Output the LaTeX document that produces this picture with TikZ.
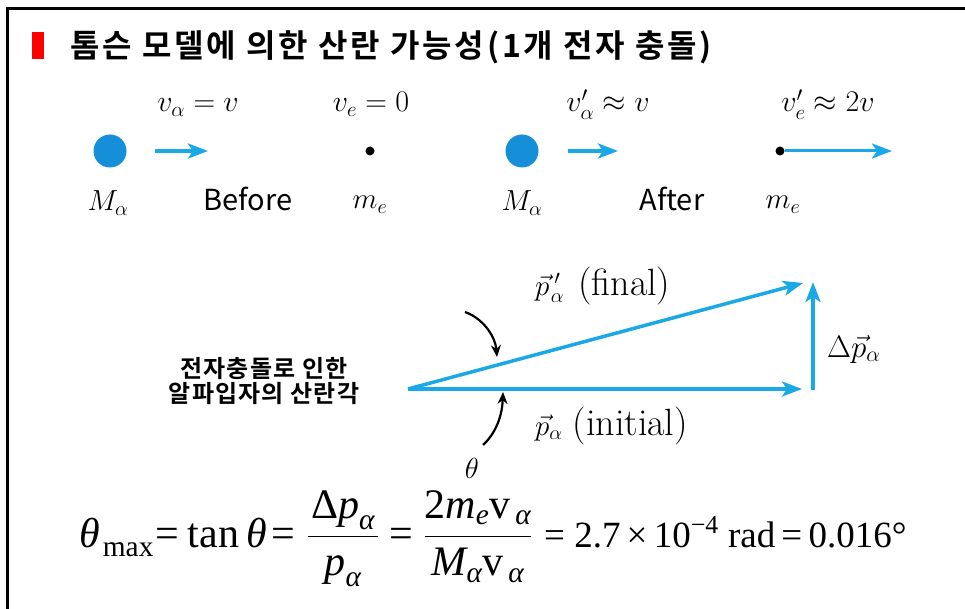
\RequirePackage{fix-cm}
\documentclass[tikz,border=0pt]{standalone}
\usepackage{amsmath}
\usepackage{fontspec}
\usepackage{tikz}
\usetikzlibrary{positioning,arrows.meta}
\newfontfamily\kr{Noto Sans CJK KR}[BoldFont={Noto Sans CJK KR Bold}]
\newfontfamily\krs{Noto Sans CJK KR}[BoldFont={Noto Sans CJK KR Bold}, LetterSpace=5]
\newfontfamily\krt{Noto Sans CJK KR}[BoldFont={Noto Sans CJK KR Bold}, LetterSpace=9]
\newfontfamily\tms{Liberation Serif}
\definecolor{ballblue}{HTML}{1590D8}
\definecolor{vecblue}{HTML}{1AA8E6}
\newcommand\tmi[1]{\text{\tms\itshape #1}}
\newcommand\tmr[1]{\text{\tms #1}}

\begin{document}
\begin{tikzpicture}[x=1pt, y=-1pt,
  ball/.style={circle, fill=ballblue, minimum size=33pt, inner sep=0pt},
  edot/.style={circle, fill=black, minimum size=9pt, inner sep=0pt},
  mv/.style={-{Stealth[length=20pt, width=15pt, inset=5pt]}, line width=3.5pt, draw=vecblue},
  curv/.style={-{Stealth[length=12pt, width=10pt]}, line width=2.2pt},
  vel/.style={font=\fontsize{30}{34}\selectfont, anchor=base, inner sep=0pt},
  mass/.style={font=\fontsize{29}{32}\selectfont, anchor=base, inner sep=0pt},
  stage/.style={font=\kr\fontsize{29}{32}\selectfont, anchor=base, inner sep=0pt},
  vlab/.style={font=\fontsize{29}{34}\selectfont, anchor=base west, inner sep=0pt},
  eqn/.style={font=\fontsize{42}{46}\selectfont, anchor=base west, inner sep=0pt}]
\useasboundingbox (0,0) rectangle (965,609);
\draw[line width=3pt] (7,609) -- (7,9) -- (965,9);
\node[fill=red, minimum width=12pt, minimum height=27pt, inner sep=0pt] (bar) at (38,45.5) {};
\node[font=\krt\bfseries\fontsize{32}{36}\selectfont, anchor=base west, inner sep=0pt] (title) at (70,58)
  {톰슨 모델에 의한 산란 가능성(1개 전자 충돌)};
% before / after
\node[ball] (Ma1) at (110,151) {};
\coordinate (a1s) at (155,151);
\coordinate (a1e) at (208,151);
\node[edot] (me1) at (370,151) {};
\node[ball] (Ma2) at (522,151) {};
\coordinate (a2s) at (568,151);
\coordinate (a2e) at (618,151);
\node[edot] (me2) at (780,151) {};
\coordinate (a3e) at (892,151);
\draw[mv] (a1s) -- (a1e);
\draw[mv] (a2s) -- (a2e);
\draw[mv, line width=3pt] (me2) -- (a3e);
\node[vel] (va1) at (198,112) {$v_\alpha = v$};
\node[vel] (ve1) at (371,112) {$v_e = 0$};
\node[vel] (va2) at (608,112) {$v'_\alpha \approx v$};
\node[vel] (ve2) at (828,112) {$v'_e \approx 2v$};
\node[mass] (Mlab1) at (108,211) {$M_\alpha$};
\node[mass] (mlab1) at (370,209) {$m_e$};
\node[mass] (Mlab2) at (522,211) {$M_\alpha$};
\node[mass] (mlab2) at (783,209) {$m_e$};
\node[stage] (before) at (248,211) {Before};
\node[stage] (after) at (672,211) {After};
% momentum triangle
\coordinate (O) at (408,389);
\coordinate (Pi) at (802,389);
\coordinate (Pf) at (803,283);
\coordinate (dp0) at (813,390);
\coordinate (dp1) at (813,282);
\draw[mv] (O) -- (Pi);
\draw[mv] (O) -- (Pf);
\draw[mv] (dp0) -- (dp1);
\node[vlab] (pf) at (535,295) {$\vec{p}\,'_{\!\alpha}$\hspace{14pt}{\fontsize{38}{40}\selectfont(final)}};
\node[vlab] (pi) at (535,435) {$\vec{p}_\alpha$\hspace{10pt}{\fontsize{38}{40}\selectfont(initial)}};
\node[vlab, font=\fontsize{31}{34}\selectfont] (dp) at (827,357) {$\Delta\vec{p}_\alpha$};
\node[vlab, anchor=base] (th) at (472,478) {$\theta$};
\coordinate (u0) at (465,312);
\coordinate (u1) at (497,357);
\coordinate (l0) at (483,445);
\coordinate (l1) at (503,392);
\draw[curv] (u0) .. controls (482,318) and (495,335) .. (u1);
\draw[curv] (l0) .. controls (493,436) and (502,420) .. (l1);
\node[font=\krs\bfseries\fontsize{24}{25}\selectfont, align=center] (scat) at (264,381)
  {전자충돌로 인한\\알파입자의 산란각};
% formula
\node[eqn] (e1) at (79,547) {$\tmi{θ}_{\tmr{\hspace{3pt}\raisebox{-3pt}{max}}}$};
\node[eqn] (e2) at (155,547) {\tms =\hspace{9pt}tan\,\textit{θ}\hspace{5pt}=};
\node[eqn, anchor=base] (e3) at (343,547)
  {$\dfrac{\hspace{3pt}\tmr{Δ}\tmi{p}_{\tmi{α}}\hspace{3pt}}{\tmi{p}_{\tmi{α}}}$};
\node[eqn] (e4) at (389,547) {\tms =};
\node[eqn, anchor=base] (e5) at (478,547)
  {$\dfrac{\tmr{2}\tmi{m}_{\tmi{e}}\tmr{v}_{\,\tmi{α}}}{\tmi{M}_{\tmi{α}}\tmr{v}_{\,\tmi{α}}}$};
\node[eqn, font=\fontsize{37}{40}\selectfont] (e6) at (544,547)
  {\tms = 2.7\,×\,10$^{\text{\tms −4}}$ rad\,=\,0.016°};
\end{tikzpicture}
\end{document}
